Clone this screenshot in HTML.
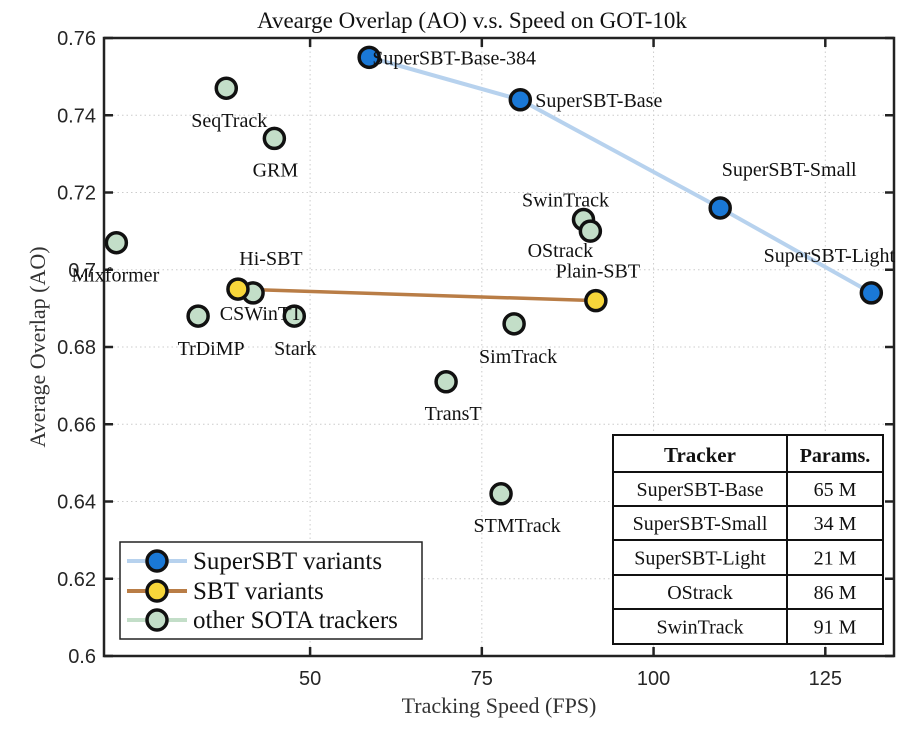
<!DOCTYPE html>
<html><head><meta charset="utf-8"><style>
body{margin:0;background:#fff;}
svg text{font-family:"Liberation Serif",serif;}
</style></head><body>
<svg id="chart" width="920" height="726" xmlns="http://www.w3.org/2000/svg">
<g id="grid"></g><g id="axes"></g><g id="lines"></g><g id="pts"></g><g id="labels"></g><g id="extras"></g>
</svg>
<script>
const xTicks=[50,75,100,125];
const yTicks=[0.6,0.62,0.64,0.66,0.68,0.7,0.72,0.74,0.76];
const yTickLabels=["0.6","0.62","0.64","0.66","0.68","0.7","0.72","0.74","0.76"];
const superNames=["SuperSBT-Base-384","SuperSBT-Base","SuperSBT-Small","SuperSBT-Light"];
const superFPS=[58.6,80.6,109.7,131.7];
const superAO=[0.755,0.744,0.716,0.694];
const sbtNames=["Hi-SBT","Plain-SBT"];
const sbtFPS=[39.5,91.6];
const sbtAO=[0.695,0.692];
const otherNames=["SeqTrack","GRM","Mixformer","TrDiMP","CSWinTT","Stark","TransT","SimTrack","STMTrack","SwinTrack","OStrack"];
const otherFPS=[37.8,44.8,21.8,33.7,41.7,47.7,69.8,79.7,77.8,89.8,90.8];
const otherAO=[0.747,0.734,0.707,0.688,0.694,0.688,0.671,0.686,0.642,0.713,0.710];
const tableTrackers=["SuperSBT-Base","SuperSBT-Small","SuperSBT-Light","OStrack","SwinTrack"];
const tableParams=["65 M","34 M","21 M","86 M","91 M"];

const L=104,R=894,T=38,B=656,X0=20,X1=135,Y0=0.6,Y1=0.76;
const sx=v=>L+(v-X0)/(X1-X0)*(R-L);
const sy=v=>B-(v-Y0)/(Y1-Y0)*(B-T);
const NS="http://www.w3.org/2000/svg";
function mk(tag,attrs,parent,txt){const e=document.createElementNS(NS,tag);for(const k in attrs)e.setAttribute(k,attrs[k]);if(txt!==undefined)e.textContent=txt;parent.appendChild(e);return e;}
const g=id=>document.getElementById(id);

xTicks.forEach(t=>{
  const l=mk('line',{x1:sx(t),x2:sx(t),y1:T,y2:B,stroke:'#ccc','stroke-dasharray':'1.5 3','stroke-width':1},g('grid'));
  
  mk('line',{x1:sx(t),x2:sx(t),y1:B,y2:B-9,stroke:'#222','stroke-width':2.5},g('axes'));
  mk('line',{x1:sx(t),x2:sx(t),y1:T,y2:T+9,stroke:'#222','stroke-width':2.5},g('axes'));
  const tx=mk('text',{x:sx(t),y:B+29,'text-anchor':'middle','font-size':20,fill:'#262626',style:'font-family:"Liberation Sans",sans-serif'},g('axes'),String(t));
  
});
yTicks.forEach((t,i)=>{
  const l=mk('line',{x1:L,x2:R,y1:sy(t),y2:sy(t),stroke:'#ccc','stroke-dasharray':'1.5 3','stroke-width':1},g('grid'));
  
  mk('line',{x1:L,x2:L+9,y1:sy(t),y2:sy(t),stroke:'#222','stroke-width':2.5},g('axes'));
  mk('line',{x1:R,x2:R-9,y1:sy(t),y2:sy(t),stroke:'#222','stroke-width':2.5},g('axes'));
  const tx=mk('text',{x:L-8,y:sy(t)+7,'text-anchor':'end','font-size':20,fill:'#262626',style:'font-family:"Liberation Sans",sans-serif'},g('axes'),yTickLabels[i]);
  
});
const box=mk('rect',{x:L,y:T,width:R-L,height:B-T,fill:'none',stroke:'#222','stroke-width':2.5},g('axes'));

const ttl=mk('text',{x:472,y:28,'text-anchor':'middle','font-size':23,fill:'#111'},g('axes'),'Avearge Overlap (AO) v.s. Speed on GOT-10k');

const xt=mk('text',{x:499,y:713,'text-anchor':'middle','font-size':22,fill:'#333'},g('axes'),'Tracking Speed (FPS)');

const yt=mk('text',{x:45,y:(T+B)/2,'text-anchor':'middle','font-size':22,fill:'#333',transform:`rotate(-90 45 ${(T+B)/2})`},g('axes'),'Average Overlap (AO)');


const sl=mk('polyline',{points:superFPS.map((v,i)=>sx(v)+','+sy(superAO[i])).join(' '),fill:'none',stroke:'#b7d2ee','stroke-width':4},g('lines'));

const bl=mk('polyline',{points:sbtFPS.map((v,i)=>sx(v)+','+sy(sbtAO[i])).join(' '),fill:'none',stroke:'#b97d46','stroke-width':3.5},g('lines'));


function pts(xs,ys,names,fill,nm){
  xs.forEach((v,i)=>{
    const c=mk('circle',{cx:sx(v),cy:sy(ys[i]),r:10,fill:fill,stroke:'#111','stroke-width':3.5},g('pts'));
    
    
  });
}
pts(otherFPS,otherAO,otherNames,'#c3dec8','other');
pts(sbtFPS,sbtAO,sbtNames,'#f7d63a','sbt');
pts(superFPS,superAO,superNames,'#1a78d6','supersbt');

const off={"SuperSBT-Base-384":[85,7,'middle'],"SuperSBT-Base":[15,7,'start'],"SuperSBT-Small":[69,-32,'middle'],"SuperSBT-Light":[-42,-31,'middle'],
"Hi-SBT":[33,-24,'middle'],"Plain-SBT":[2,-23,'middle'],"SeqTrack":[3,39,'middle'],"GRM":[1,38,'middle'],"Mixformer":[-1,39,'middle'],
"TrDiMP":[13,39,'middle'],"CSWinTT":[8,27,'middle'],"Stark":[1,39,'middle'],"TransT":[7,38,'middle'],"SimTrack":[4,39,'middle'],
"STMTrack":[16,38,'middle'],"SwinTrack":[-18,-13,'middle'],"OStrack":[-30,26,'middle']};
function labs(xs,ys,names){
  xs.forEach((v,i)=>{const o=off[names[i]];
    const t=mk('text',{x:sx(v)+o[0],y:sy(ys[i])+o[1],'text-anchor':o[2],'font-size':20,fill:'#111'},g('labels'),names[i]);
    });
}
labs(superFPS,superAO,superNames);labs(sbtFPS,sbtAO,sbtNames);labs(otherFPS,otherAO,otherNames);

const lg=mk('g',{},g('extras'));

mk('rect',{x:120,y:542,width:302,height:97,fill:'#fff',stroke:'#222','stroke-width':1.5},lg);
[['SuperSBT variants','#b7d2ee','#1a78d6',561],['SBT variants','#b97d46','#f7d63a',591],['other SOTA trackers','#c3dec8','#c3dec8',620]].forEach(e=>{
  const it=mk('g',{},lg);
  
  mk('line',{x1:127,x2:187,y1:e[3],y2:e[3],stroke:e[1],'stroke-width':4},it);
  mk('circle',{cx:157,cy:e[3],r:10,fill:e[2],stroke:'#111','stroke-width':3.5},it);
  mk('text',{x:193,y:e[3]+8,'font-size':25,fill:'#111'},it,e[0]);
});

const tb=mk('g',{},g('extras'));

const rows=[435,472,506,540,575,609,644];
mk('rect',{x:613,y:435,width:270,height:209,fill:'#fff',stroke:'#111','stroke-width':2},tb);
rows.slice(1,-1).forEach(y=>mk('line',{x1:613,x2:883,y1:y,y2:y,stroke:'#111','stroke-width':2},tb));
mk('line',{x1:787,x2:787,y1:435,y2:644,stroke:'#111','stroke-width':2},tb);
mk('text',{x:700,y:462,'text-anchor':'middle','font-size':21,'font-weight':'bold',fill:'#111'},tb,'Tracker');
mk('text',{x:835,y:462,'text-anchor':'middle','font-size':20,'font-weight':'bold',fill:'#111'},tb,'Params.');
tableTrackers.forEach((n,i)=>{
  const cy=(rows[i+1]+rows[i+2])/2+7;
  const a=mk('text',{x:700,y:cy,'text-anchor':'middle','font-size':20,fill:'#111'},tb,n);
  
  const b=mk('text',{x:835,y:cy,'text-anchor':'middle','font-size':20,fill:'#111'},tb,tableParams[i]);
  
});
</script>
</body></html>
